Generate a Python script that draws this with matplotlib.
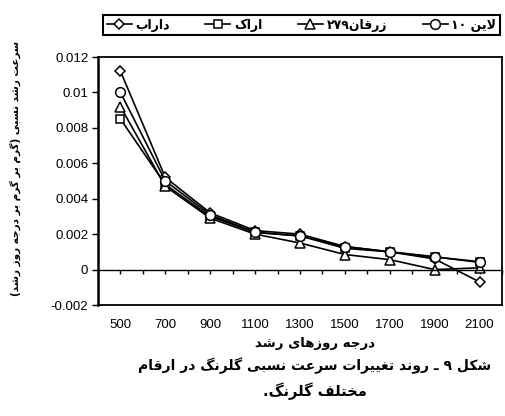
import re
import matplotlib
matplotlib.use("Agg")
import matplotlib.pyplot as plt

# --- data ---
days = ["500", "700", "900", "1100", "1300", "1500", "1700", "1900", "2100"]
darab = [0.0112, 0.0052, 0.0032, 0.0022, 0.0020, 0.0013, 0.0010, 0.0006, -0.0007]
arak = [0.0085, 0.0048, 0.0030, 0.0021, 0.0019, 0.0012, 0.0010, 0.0007, 0.00045]
zarghan = [0.0092, 0.0047, 0.0029, 0.0020, 0.0015, 0.00085, 0.00056, 0.0000, 0.0001]
line10 = [0.0100, 0.0050, 0.0031, 0.0021, 0.0019, 0.0013, 0.0010, 0.00073, 0.0004]
series_names = ["داراب", "اراک", "زرقان۲۷۹", "لاین ۱۰"]
yticks = [-0.002, 0, 0.002, 0.004, 0.006, 0.008, 0.01, 0.012]
ytick_labels = ["-0.002", "0", "0.002", "0.004", "0.006", "0.008", "0.01", "0.012"]
ylabel = "سرعت رشد نسبی (گرم بر گرم بر درجه روز رشد)"
xlabel = "درجه روزهای رشد"
caption1 = "شکل ۹ ـ روند تغییرات سرعت نسبی گلرنگ در ارقام"
caption2 = "مختلف گلرنگ."

# matplotlib has no arabic shaping: pick contextual forms by hand, then lay out RTL
# (final, initial, medial); None initial = letter does not join forward
FORMS = {
    'ا': (0xFE8E, None, None), 'ب': (0xFE90, 0xFE91, 0xFE92),
    'ت': (0xFE96, 0xFE97, 0xFE98), 'ج': (0xFE9E, 0xFE9F, 0xFEA0),
    'خ': (0xFEA6, 0xFEA7, 0xFEA8), 'د': (0xFEAA, None, None),
    'ر': (0xFEAE, None, None), 'ز': (0xFEB0, None, None),
    'س': (0xFEB2, 0xFEB3, 0xFEB4), 'ش': (0xFEB6, 0xFEB7, 0xFEB8),
    'ع': (0xFECA, 0xFECB, 0xFECC), 'غ': (0xFECE, 0xFECF, 0xFED0),
    'ف': (0xFED2, 0xFED3, 0xFED4), 'ق': (0xFED6, 0xFED7, 0xFED8),
    'ل': (0xFEDE, 0xFEDF, 0xFEE0), 'م': (0xFEE2, 0xFEE3, 0xFEE4),
    'ن': (0xFEE6, 0xFEE7, 0xFEE8), 'ه': (0xFEEA, 0xFEEB, 0xFEEC),
    'و': (0xFEEE, None, None), 'ک': (0xFB8F, 0xFB90, 0xFB91),
    'گ': (0xFB93, 0xFB94, 0xFB95), 'ی': (0xFBFD, 0xFBFE, 0xFBFF),
    'ـ': (0x0640, 0x0640, 0x0640),
}


def fa(text):
    out, i = [], 0
    while i < len(text):
        c = text[i]
        prev = text[i - 1] if i > 0 else ""
        joins_prev = prev in FORMS and FORMS[prev][1] is not None
        if c == 'ل' and i + 1 < len(text) and text[i + 1] == 'ا':
            out.append(chr(0xFEFC if joins_prev else 0xFEFB)); i += 2; continue
        if c not in FORMS:
            out.append(c); i += 1; continue
        nxt = text[i + 1] if i + 1 < len(text) else ""
        joins_next = FORMS[c][1] is not None and nxt in FORMS
        fin, ini, med = FORMS[c]
        if joins_prev and joins_next: ch = chr(med)
        elif joins_prev: ch = chr(fin)
        elif joins_next: ch = chr(ini)
        else: ch = c
        out.append(ch); i += 1
    s = "".join(out)[::-1]
    s = re.sub(r"[0-9۰-۹]+", lambda m: m.group()[::-1], s)
    return s.translate(str.maketrans("()", ")("))


FA = ["DejaVu Sans"]
plt.rcParams["font.family"] = ["Liberation Sans", "DejaVu Sans"]

fig = plt.figure(figsize=(5.05, 4.16), dpi=100)
ax = fig.add_axes([98 / 505, 1 - 305 / 416, 404 / 505, 248 / 416])

x = range(len(days))
styles = [(darab, "D", 5.5), (arak, "s", 6), (zarghan, "^", 7), (line10, "o", 7)]
for (vals, mk, ms), name in zip(styles, series_names):
    ax.plot(x, vals, color="black", lw=1.2, marker=mk, ms=ms, mfc="white",
            mec="black", mew=1.1, label=fa(name))

ax.set_xlim(-0.5, len(days) - 0.5)
ax.set_ylim(-0.002, 0.012)
ax.set_yticks(yticks, ytick_labels, fontsize=9.5)
ax.tick_params(axis="y", direction="out", length=4, width=1, pad=3)

# category axis crosses at zero, with ticks every half category
ax.spines["bottom"].set_position(("data", 0))
ax.set_xticks([i * 0.5 - 0.5 for i in range(2 * len(days) + 1)])
ax.tick_params(axis="x", direction="out", length=3, width=1, labelbottom=False)
for s in ["top", "right"]:
    ax.spines[s].set_linewidth(1.3)
ax.spines["left"].set_linewidth(1.8)
ax.spines["bottom"].set_linewidth(1.0)

sec = ax.secondary_xaxis(0.0)
sec.set_xticks(list(x), days, fontsize=9.5)
sec.tick_params(length=0, pad=10)
sec.spines["bottom"].set_linewidth(1.3)

fig.text(15 / 505, 1 - 168 / 416, fa(ylabel), rotation=90, ha="center", va="center",
         fontsize=7.5, fontweight="bold", family=FA)
fig.text(315 / 505, 1 - 343 / 416, fa(xlabel), ha="center", va="center",
         fontsize=9.5, fontweight="bold", family=FA)
fig.text(315 / 505, 1 - 366 / 416, fa(caption1), ha="center", va="center",
         fontsize=10, fontweight="bold", family=FA)
fig.text(315 / 505, 1 - 391 / 416, fa(caption2), ha="center", va="center",
         fontsize=10.5, fontweight="bold", family=FA)

leg = fig.legend(loc="center", ncol=4, mode="expand",
                 bbox_to_anchor=(103 / 505, 1 - 38 / 416, 397 / 505, 26 / 416),
                 fancybox=False, edgecolor="black", framealpha=1,
                 prop={"family": FA, "weight": "bold", "size": 9},
                 handlelength=2.0, handletextpad=0.3, columnspacing=0.6,
                 borderpad=0.3, borderaxespad=0)
leg.get_frame().set_linewidth(1.5)

fig.savefig("out.png", dpi=100)
